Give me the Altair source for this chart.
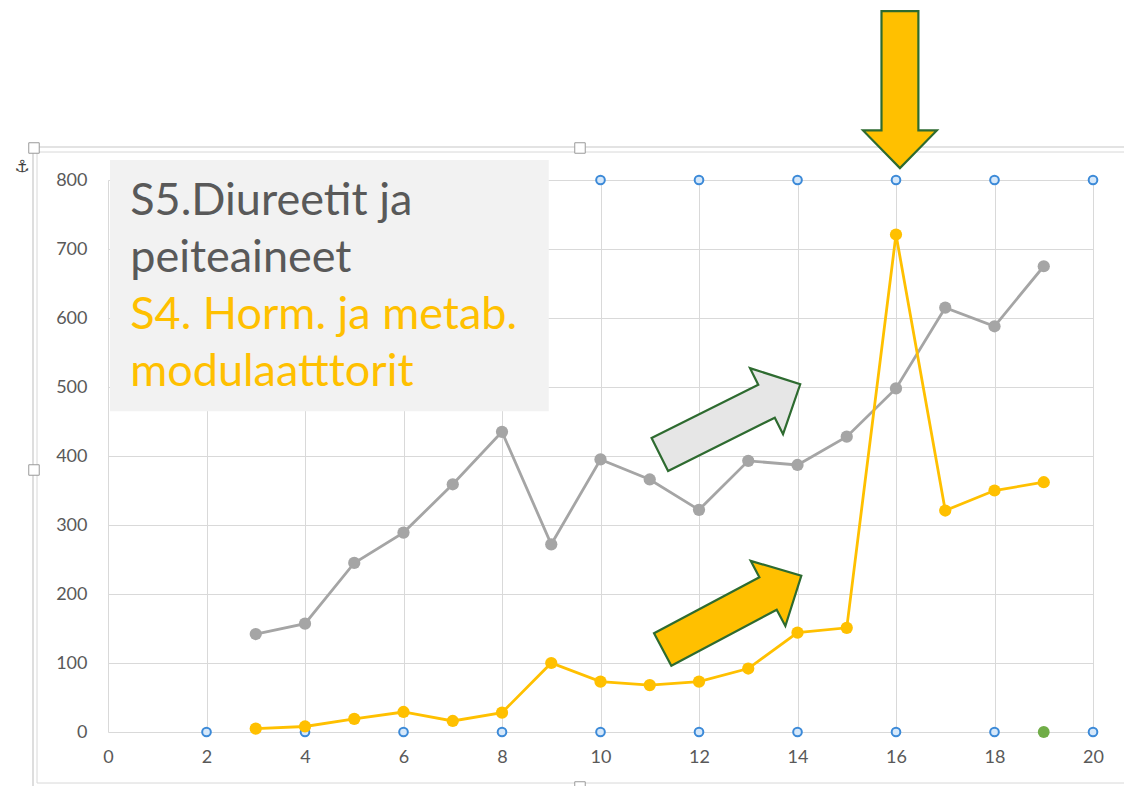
import altair as alt
import pandas as pd

# ---- data ----
years = list(range(3, 20))
s5_values = [142, 157, 245, 289, 359, 435, 272, 395, 366, 322, 393, 387, 428, 498, 615, 588, 675]
s4_values = [5, 8, 19, 29, 16, 28, 100, 73, 68, 73, 92, 144, 151, 721, 321, 350, 362]

x_ticks = list(range(0, 21, 2))
y_ticks = list(range(0, 801, 100))

handle_x_top = [10, 12, 14, 16, 18, 20]
handle_x_bottom = [2, 4, 6, 8, 10, 12, 14, 16, 18, 20]

title_lines = ["S5.Diureetit ja", "peiteaineet", "S4. Horm. ja metab.", "modulaatttorit"]
title_colors = ["#595959", "#595959", "#FFC000", "#FFC000"]
title_x = [0.45, 0.45, 0.45, 0.45]
title_y = [749, 667, 584, 501]

# block arrows (annotation): centre position in data units, rotation, fill
arrow_x = [12.63, 12.67, 16.08]
arrow_y = [453, 173, 931]
arrow_angle = [333.4, 332.0, 90]
arrow_fill = ["#E6E6E6", "#FFC000", "#FFC000"]

box_x, box_x2, box_y, box_y2 = 0.04, 8.95, 829, 465

W, H = 985, 552
xs = alt.Scale(domain=[0, 20], nice=False, zero=False)
ys = alt.Scale(domain=[0, 800], nice=False)

df = pd.DataFrame({
    "x": years * 2,
    "v": s5_values + s4_values,
    "s": ["S5"] * len(years) + ["S4"] * len(years),
})
color = alt.Color("s:N", scale=alt.Scale(domain=["S5", "S4"], range=["#A5A5A5", "#FFC000"]), legend=None)

X = alt.X("x:Q", scale=xs, axis=alt.Axis(values=x_ticks, title=None, grid=True, labelPadding=16,
                                         format="d", labelFlush=False, labelOverlap=False))
Y = alt.Y("v:Q", scale=ys, axis=alt.Axis(values=y_ticks, title=None, grid=True, labelPadding=21,
                                         format="d", labelFlush=False, labelOverlap=False))

base_axes = alt.Chart(df).mark_point(opacity=0).encode(x=X, y=Y)

handles = pd.DataFrame({
    "x": handle_x_top + handle_x_bottom,
    "v": [800] * len(handle_x_top) + [0] * len(handle_x_bottom),
})
handle_layer = alt.Chart(handles).mark_point(
    shape="circle", size=75, filled=True, fill="#D6E8FA", stroke="#3C8AD8", strokeWidth=2, opacity=1
).encode(x=alt.X("x:Q", scale=xs), y=alt.Y("v:Q", scale=ys))

green = alt.Chart(pd.DataFrame({"x": [19], "v": [0]})).mark_point(
    shape="circle", size=140, filled=True, color="#70AD47", opacity=1
).encode(x=alt.X("x:Q", scale=xs), y=alt.Y("v:Q", scale=ys))

box = alt.Chart(pd.DataFrame({"x": [box_x], "x2": [box_x2], "v": [box_y], "v2": [box_y2]})).mark_rect(
    color="#F2F2F2"
).encode(x=alt.X("x:Q", scale=xs), x2="x2:Q", y=alt.Y("v:Q", scale=ys), y2="v2:Q")

tdf = pd.DataFrame({"x": title_x, "v": title_y, "t": title_lines, "c": title_colors})
texts = alt.Chart(tdf).mark_text(
    align="left", baseline="alphabetic", font="Lato", fontSize=45
).encode(x=alt.X("x:Q", scale=xs), y=alt.Y("v:Q", scale=ys), text="t:N",
         color=alt.Color("c:N", scale=None))

lines = alt.Chart(df).mark_line(strokeWidth=2.8).encode(
    x=alt.X("x:Q", scale=xs), y=alt.Y("v:Q", scale=ys), color=color, detail="s:N")
points = alt.Chart(df).mark_point(shape="circle", size=150, filled=True, opacity=1).encode(
    x=alt.X("x:Q", scale=xs), y=alt.Y("v:Q", scale=ys), color=color)

arrow_path = "M -1 -0.235 L 0.52 -0.235 L 0.52 -0.47 L 1 0 L 0.52 0.47 L 0.52 0.235 L -1 0.235 Z"
adf = pd.DataFrame({"x": arrow_x, "v": arrow_y, "a": arrow_angle, "f": arrow_fill})
arrows = alt.Chart(adf).mark_point(
    shape=arrow_path, size=157 * 157, filled=True, stroke="#2E6B30", strokeWidth=2.2, opacity=1, strokeOpacity=1
).encode(x=alt.X("x:Q", scale=xs), y=alt.Y("v:Q", scale=ys),
         angle=alt.Angle("a:Q", scale=None), fill=alt.Fill("f:N", scale=None))

# selection frame of the embedded chart object (decoration)
frame_outer = alt.Chart(pd.DataFrame({"k": [0]})).mark_rect(
    filled=False, stroke="#C8C8C8", strokeWidth=1.2
).encode(x=alt.value(-75), x2=alt.value(1030), y=alt.value(-33), y2=alt.value(608))
frame_inner = alt.Chart(pd.DataFrame({"k": [0]})).mark_rect(
    filled=False, stroke="#D8D8D8", strokeWidth=1
).encode(x=alt.value(-71), x2=alt.value(1030), y=alt.value(-28), y2=alt.value(603))

hx = [-74, 472, -74, 472]
hy = [-32, -32, 290, 607]
hdf = pd.DataFrame({"px": hx, "py": hy})
frame_handles = alt.Chart(hdf).mark_point(
    shape="square", size=110, filled=True, fill="white", stroke="#9A9A9A", strokeWidth=1, opacity=1
).encode(x=alt.X("px:Q", scale=None), y=alt.Y("py:Q", scale=None))

anchor = alt.Chart(pd.DataFrame({"k": [0]})).mark_text(
    text="⚓", font="DejaVu Sans", fontSize=17, color="#404040"
).encode(x=alt.value(-86), y=alt.value(-13))

chart = alt.layer(
    frame_outer, frame_inner, base_axes, handle_layer, green, box, texts, lines, points, arrows,
    frame_handles, anchor
).properties(
    width=W, height=H,
    autosize=alt.AutoSizeParams(type="none"),
    padding={"left": 100, "top": 172, "right": 31, "bottom": 54},
    background="white",
).configure_view(stroke=None).configure_axis(
    labelFont="Lato", labelFontSize=18, labelColor="#595959",
    gridColor="#D9D9D9", gridWidth=1, domain=False, ticks=False,
)

chart.save("out.html", embed_options={"renderer": "svg", "actions": False})
